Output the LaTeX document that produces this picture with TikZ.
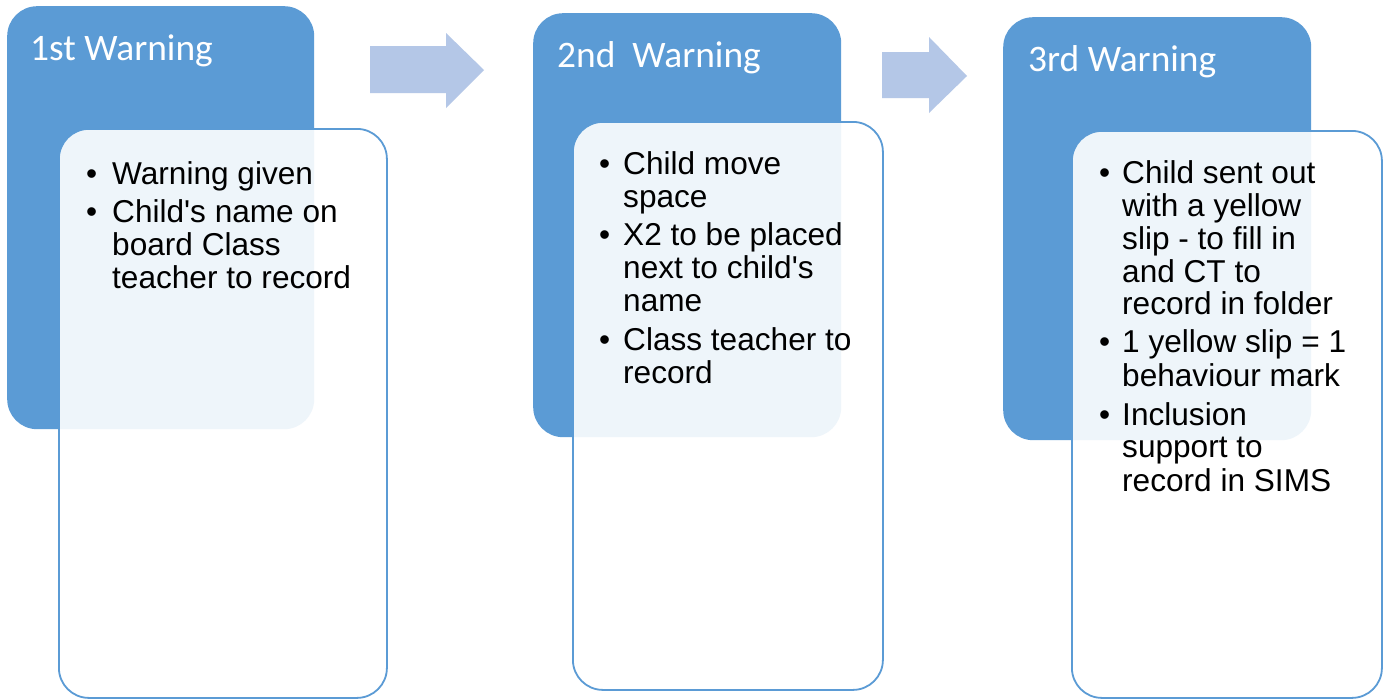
\documentclass[tikz,border=0pt]{standalone}
\usepackage{fontspec}
\setmainfont{Liberation Sans}[Ligatures=TeXOff]
\newfontfamily\headfont{Carlito}
\definecolor{panelblue}{HTML}{5B9BD5}
\definecolor{arrowblue}{HTML}{B4C7E7}
\begin{document}
\begin{tikzpicture}[x=1pt,y=-1pt,
  headbox/.style={draw=none, fill=panelblue, rounded corners=30pt, anchor=north west, inner sep=0pt},
  listbox/.style={draw=panelblue, line width=1.8pt, fill=white, fill opacity=0.9, rounded corners=30pt, anchor=north west, inner sep=0pt},
  headtext/.style={anchor=base west, inner sep=0pt, text=white, font=\headfont\fontsize{37.4}{40}\selectfont},
  bodytext/.style={anchor=base west, inner sep=0pt, text=black, font=\fontsize{31.6}{33}\selectfont},
  flowarrow/.style={fill=arrowblue, draw=none}]
\useasboundingbox (0,0) rectangle (1388,699);
\fill[white] (0,0) rectangle (1388,699);

% stage boxes: coloured header panel with a white list panel over it
\node[headbox, minimum width=307pt, minimum height=423pt] (h1) at (7,6) {};
\node[listbox, minimum width=328pt, minimum height=569pt] (p1) at (58,128) {};
\node[headbox, minimum width=308pt, minimum height=424pt] (h2) at (533,13) {};
\node[listbox, minimum width=310pt, minimum height=568pt] (p2) at (572,121) {};
\node[headbox, minimum width=308pt, minimum height=423pt] (h3) at (1003,17) {};
\node[listbox, minimum width=310pt, minimum height=567pt] (p3) at (1071,130) {};

% block arrows between the stages
\fill[flowarrow] (370,46) -- (446,46) -- (446,33) -- (484,70) -- (446,108) -- (446,93) -- (370,93) -- cycle;
\fill[flowarrow] (882,52) -- (929,52) -- (929,37) -- (967,76) -- (929,113) -- (929,98) -- (882,98) -- cycle;

% headings
\node[headtext] (t1) at (30,60) {1st Warning};
\node[headtext] (t2) at (557,67) {2nd\ \ Warning};
\node[headtext] (t3) at (1028,71) {3rd Warning};

% first stage
\node[bodytext] (a1) at (86,184) {•};
\node[bodytext] (a2) at (86,222) {•};
\node[bodytext] at (112,184) {Warning given};
\node[bodytext] at (112,222) {Child's name on};
\node[bodytext] at (112,255) {board Class};
\node[bodytext] at (112,288) {teacher to record};

% second stage
\node[bodytext] (b1) at (599,174) {•};
\node[bodytext] (b2) at (599,245) {•};
\node[bodytext] (b3) at (599,350) {•};
\node[bodytext] at (623,174) {Child move};
\node[bodytext] at (623,207) {space};
\node[bodytext] at (623,245) {X2 to be placed};
\node[bodytext] at (623,278) {next to child's};
\node[bodytext] at (623,311) {name};
\node[bodytext] at (623,350) {Class teacher to};
\node[bodytext] at (623,383) {record};

% third stage
\node[bodytext] (c1) at (1099,183) {•};
\node[bodytext] (c2) at (1099,352) {•};
\node[bodytext] (c3) at (1099,425) {•};
\node[bodytext] at (1122,183) {Child sent out};
\node[bodytext] at (1122,216) {with a yellow};
\node[bodytext] at (1122,249) {slip - to fill in};
\node[bodytext] at (1122,282) {and CT to};
\node[bodytext] at (1122,314) {record in folder};
\node[bodytext] at (1122,352) {1 yellow slip = 1};
\node[bodytext] at (1122,386) {behaviour mark};
\node[bodytext] at (1122,425) {Inclusion};
\node[bodytext] at (1122,457) {support to};
\node[bodytext] at (1122,491) {record in SIMS};
\end{tikzpicture}
\end{document}
